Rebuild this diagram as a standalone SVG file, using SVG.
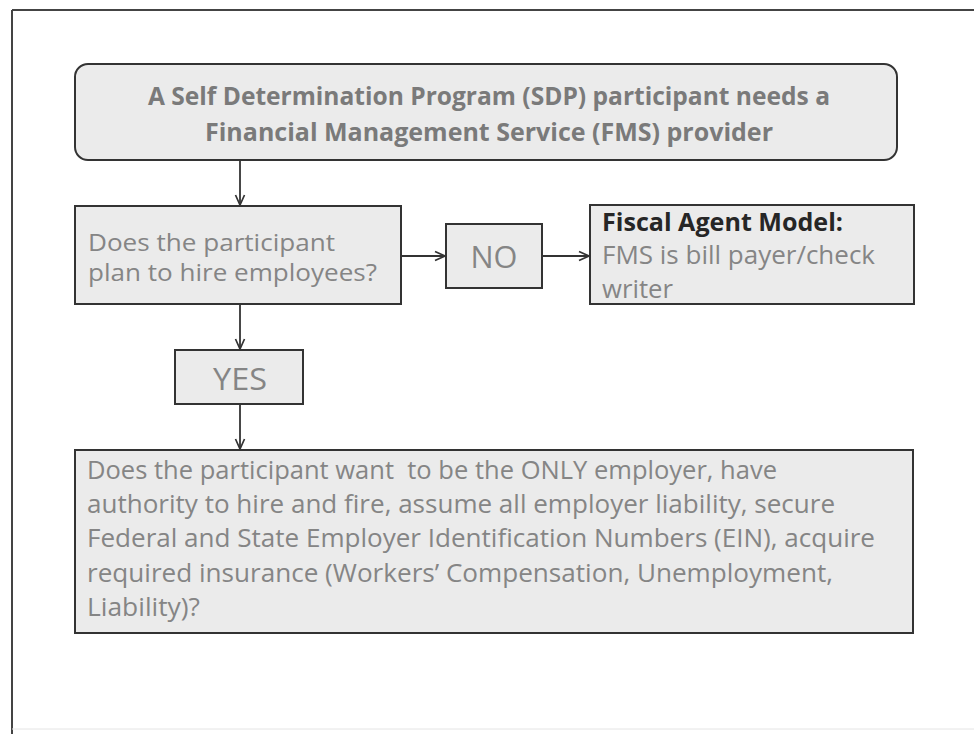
<svg xmlns="http://www.w3.org/2000/svg" width="974" height="734" viewBox="0 0 974 734">
  <defs>
    <marker id="arr" viewBox="0 0 12 12" refX="11" refY="6" markerWidth="12" markerHeight="12" markerUnits="userSpaceOnUse" orient="auto">
      <path d="M1,1.5 L11,6 L1,10.5" fill="none" stroke="#333" stroke-width="1.7"/>
    </marker>
  </defs>
  <style>
    .box { fill: #ebebeb; stroke: #333; stroke-width: 2; }
    .t { font-family: "Open Sans", "Noto Sans", "Liberation Sans", sans-serif; font-size: 25px; fill: #858585; }
    .sm { font-size: 23.5px; }
    .tb { font-weight: bold; fill: #7a7a7a; }
    .hd { font-weight: bold; fill: #262626; }
    .big { font-size: 31px; }
    .conn line { stroke: #333; stroke-width: 1.8; marker-end: url(#arr); }
  </style>
  <rect width="974" height="734" fill="#ffffff"/>
  <g id="frame">
    <line x1="12" y1="10" x2="974" y2="10" stroke="#444" stroke-width="2"/>
    <line x1="12" y1="10" x2="12" y2="734" stroke="#444" stroke-width="2"/>
    <line x1="12" y1="729" x2="974" y2="729" stroke="#e4e4e4" stroke-width="1"/>
  </g>
  <g id="start">
    <rect class="box" x="75" y="64" width="822" height="96" rx="13"/>
    <text class="t tb" x="148" y="105" textLength="682" lengthAdjust="spacingAndGlyphs">A Self Determination Program (SDP) participant needs a</text>
    <text class="t tb" x="205" y="141" textLength="568" lengthAdjust="spacingAndGlyphs">Financial Management Service (FMS) provider</text>
  </g>
  <g id="hire">
    <rect class="box" x="75" y="206" width="326" height="98"/>
    <text class="t sm" x="88" y="251" textLength="247" lengthAdjust="spacingAndGlyphs">Does the participant</text>
    <text class="t sm" x="88" y="281" textLength="289" lengthAdjust="spacingAndGlyphs">plan to hire employees?</text>
  </g>
  <g id="no">
    <rect class="box" x="446" y="224" width="96" height="64"/>
    <text class="t big" x="494" y="268" text-anchor="middle" textLength="47" lengthAdjust="spacingAndGlyphs">NO</text>
  </g>
  <g id="fiscal">
    <rect class="box" x="590" y="205" width="324" height="99"/>
    <text class="t hd" x="602" y="231" textLength="241" lengthAdjust="spacingAndGlyphs">Fiscal Agent Model:</text>
    <text class="t" x="602" y="264" textLength="273" lengthAdjust="spacingAndGlyphs">FMS is bill payer/check</text>
    <text class="t" x="602" y="298" textLength="71" lengthAdjust="spacingAndGlyphs">writer</text>
  </g>
  <g id="yes">
    <rect class="box" x="175" y="350" width="128" height="54"/>
    <text class="t big" x="240" y="390" text-anchor="middle" textLength="54" lengthAdjust="spacingAndGlyphs">YES</text>
  </g>
  <g id="employer">
    <rect class="box" x="75" y="450" width="838" height="183"/>
    <text class="t" x="87" y="479" xml:space="preserve" textLength="690" lengthAdjust="spacingAndGlyphs">Does the participant want  to be the ONLY employer, have</text>
    <text class="t" x="87" y="513" textLength="748" lengthAdjust="spacingAndGlyphs">authority to hire and fire, assume all employer liability, secure</text>
    <text class="t" x="87" y="547" textLength="788" lengthAdjust="spacingAndGlyphs">Federal and State Employer Identification Numbers (EIN), acquire</text>
    <text class="t" x="87" y="582" textLength="746" lengthAdjust="spacingAndGlyphs">required insurance (Workers’ Compensation, Unemployment,</text>
    <text class="t" x="87" y="616" textLength="113" lengthAdjust="spacingAndGlyphs">Liability)?</text>
  </g>
  <g id="connectors" class="conn">
    <line x1="240" y1="160" x2="240" y2="205"/>
    <line x1="401" y1="256" x2="445" y2="256"/>
    <line x1="542" y1="256" x2="589" y2="256"/>
    <line x1="240" y1="304" x2="240" y2="349"/>
    <line x1="240" y1="404" x2="240" y2="449"/>
  </g>
</svg>
